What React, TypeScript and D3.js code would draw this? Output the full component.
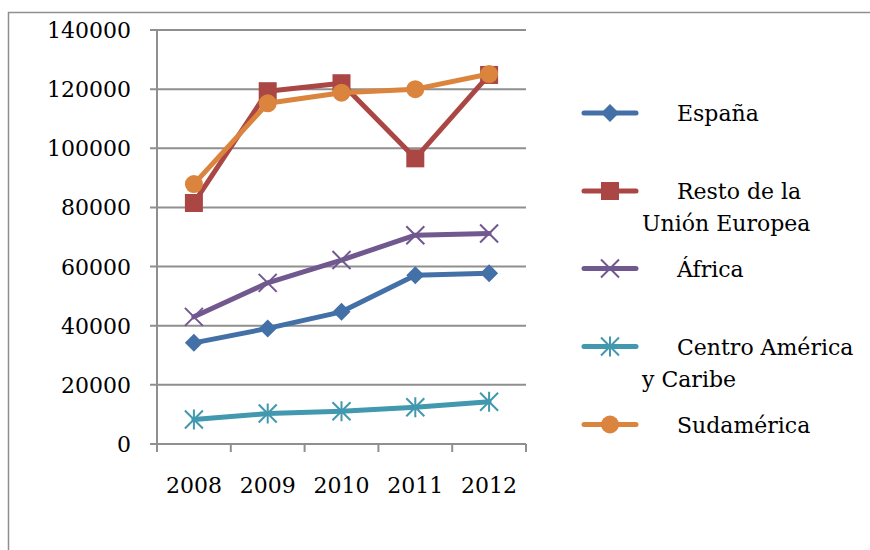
import React from 'react'
import * as d3 from 'd3'

const years = ['2008', '2009', '2010', '2011', '2012']
const yTicks = [0, 20000, 40000, 60000, 80000, 100000, 120000, 140000]

const espana = [34200, 39100, 44700, 57100, 57700]
const restoUE = [81500, 119300, 122000, 96600, 124800]
const africa = [43000, 54500, 62200, 70600, 71200]
const centroAmerica = [8300, 10300, 11100, 12400, 14300]
const sudamerica = [87900, 115200, 118800, 120000, 125100]

const seriesNames = [['España'], ['Resto de la', 'Unión Europea'], ['África'], ['Centro América', 'y Caribe'], ['Sudamérica']]
const seriesColors = ['#4470a8', '#aa4643', '#71588f', '#4198af', '#db843d']
const seriesMarkers = ['diamond', 'square', 'x', 'star', 'circle']
const seriesValues = [espana, restoUE, africa, centroAmerica, sudamerica]

const width = 870
const height = 550
const plot = { left: 157, right: 526, top: 30, bottom: 444 }
const font = '"DejaVu Serif", serif'
const gridColor = '#8f8f8f'

const Marker = ({ kind, color, x, y }) => {
	const s = 9
	if (kind === 'diamond')
		return <path d={`M${x},${y - s}L${x + s},${y}L${x},${y + s}L${x - s},${y}Z`} fill={color} />
	if (kind === 'square')
		return <rect x={x - s} y={y - s} width={2 * s} height={2 * s} fill={color} />
	if (kind === 'circle') return <circle cx={x} cy={y} r={s} fill={color} />
	const d = `M${x - s},${y - s}L${x + s},${y + s}M${x - s},${y + s}L${x + s},${y - s}`
	return (
		<path
			d={kind === 'star' ? `${d}M${x},${y - s - 1}L${x},${y + s + 1}` : d}
			stroke={color}
			strokeWidth={2}
			fill="none"
		/>
	)
}

export default function App() {
	const xScale = d3.scaleBand().domain(years).range([plot.left, plot.right]).padding(0)
	const yScale = d3.scaleLinear().domain([0, 140000]).range([plot.bottom, plot.top])
	const cx = (yr: string) => (xScale(yr) as number) + xScale.bandwidth() / 2
	const line = d3
		.line<number>()
		.x((_, i) => cx(years[i]))
		.y(d => yScale(d))

	const bounds = years.map(yr => xScale(yr) as number).concat([plot.right])
	const legendY = [113, 191, 268.5, 346.5, 424.5]

	return (
		<svg
			width={width}
			height={height}
			style={{ position: 'fixed', left: 0, top: 0, background: '#fff' }}
			fontFamily={font}
			fontSize={22}
		>
			<rect x={8.5} y={12.5} width={900} height={600} fill="none" stroke={gridColor} strokeWidth={1.5} />

			{yTicks.map(t => (
				<g key={t}>
					<line x1={plot.left - 7} x2={plot.right} y1={yScale(t)} y2={yScale(t)} stroke={gridColor} strokeWidth={2} />
					<text x={131} y={yScale(t) + 8} textAnchor="end" fill="#000">
						{t}
					</text>
				</g>
			))}
			<line x1={plot.left} x2={plot.left} y1={plot.top} y2={plot.bottom + 8} stroke={gridColor} strokeWidth={2} />
			{bounds.map((b, i) => (
				<line key={i} x1={b} x2={b} y1={plot.bottom} y2={plot.bottom + 8} stroke={gridColor} strokeWidth={2} />
			))}
			{years.map(yr => (
				<text key={yr} x={cx(yr)} y={493} textAnchor="middle" fill="#000">
					{yr}
				</text>
			))}

			{seriesValues.map((vals, si) => (
				<g key={si}>
					<path
						d={line(vals) as string}
						fill="none"
						stroke={seriesColors[si]}
						strokeWidth={5}
						strokeLinejoin="round"
						strokeLinecap="round"
					/>
					{vals.map((v, i) => (
						<Marker key={i} kind={seriesMarkers[si]} color={seriesColors[si]} x={cx(years[i])} y={yScale(v)} />
					))}
				</g>
			))}

			{seriesNames.map((lines, si) => (
				<g key={si}>
					<line
						x1={584}
						x2={636}
						y1={legendY[si]}
						y2={legendY[si]}
						stroke={seriesColors[si]}
						strokeWidth={5}
						strokeLinecap="round"
					/>
					<Marker kind={seriesMarkers[si]} color={seriesColors[si]} x={610} y={legendY[si]} />
					{lines.map((txt, li) => (
						<text key={li} x={li === 0 ? 677 : 642} y={legendY[si] + 8 + li * 32} fill="#000">
							{txt}
						</text>
					))}
				</g>
			))}
		</svg>
	)
}
